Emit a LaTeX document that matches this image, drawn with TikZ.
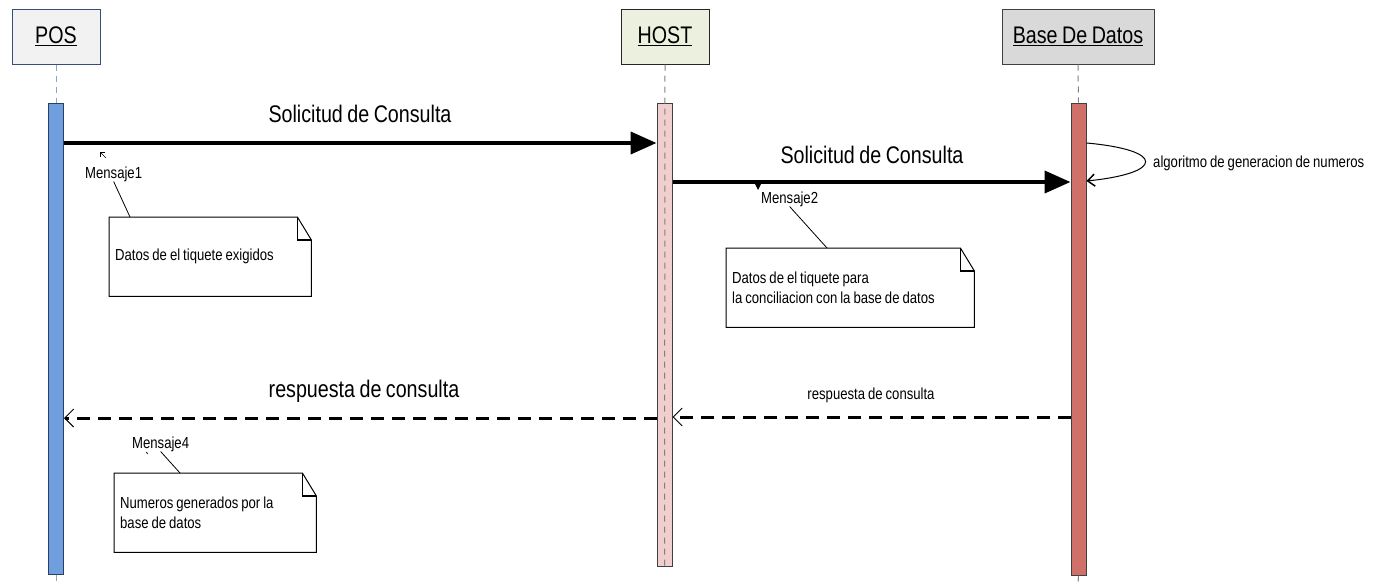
\documentclass[tikz,border=0pt]{standalone}
\usepackage{fontspec}
\newfontfamily\narrowsf[FakeStretch=0.82,WordSpace=0.82]{Liberation Sans}
\usepackage{tikz}
\usetikzlibrary{arrows.meta}
\usetikzlibrary{positioning}
\definecolor{posFill}{HTML}{F2F2F2}
\definecolor{posEdge}{HTML}{34507A}
\definecolor{posLine}{HTML}{8FA3C2}
\definecolor{posBarFill}{HTML}{6F9FDE}
\definecolor{hostFill}{HTML}{EBF1DE}
\definecolor{hostBarFill}{HTML}{F0CFCE}
\definecolor{dbFill}{HTML}{D9D9D9}
\definecolor{dbBarFill}{HTML}{CF7169}
\definecolor{barEdge}{HTML}{404040}
\definecolor{lineGray}{HTML}{808080}
\newcommand{\bigLabel}{\narrowsf\fontsize{24}{28}\selectfont}
\newcommand{\smallLabel}{\narrowsf\fontsize{16}{20}\selectfont}
\newcommand{\headText}[1]{\underline{#1}}
\newcommand{\tightSpace}{\spaceskip=0pt\xspaceskip=0pt\relax}
\newcommand{\noteFold}[1]{
	\draw[line width=1pt] (#1.north west) -- ([xshift=-14pt]#1.north east) -- ([yshift=-23pt]#1.north east) -- (#1.south east) -- (#1.south west) -- cycle;
	\draw[line width=1.4pt] ([xshift=-14pt]#1.north east) -- ([xshift=-14pt,yshift=-23pt]#1.north east) -- ([yshift=-23pt]#1.north east);
}

\begin{document}
\begin{tikzpicture}[x=1pt, y=-1pt,
	head/.style={draw, line width=1pt, minimum height=55pt, inner sep=0pt, font=\bigLabel},
	bar/.style={draw=barEdge, line width=1pt, minimum width=15pt, inner sep=0pt},
	lifeline/.style={line width=1pt, dash pattern=on 6pt off 5pt},
	call/.style={line width=4pt, -{Triangle[length=26pt,width=22pt]}},
	reply/.style={line width=3pt, dash pattern=on 13pt off 8pt, -{Straight Barb[line width=1pt,length=9pt,width=18pt]}},
	selfcall/.style={line width=1pt, -{Straight Barb[line width=1.5pt,length=7pt,width=12pt]}},
	msg/.style={font=\bigLabel, anchor=base, inner sep=0pt},
	tag/.style={font=\smallLabel, anchor=base west, inner sep=0pt},
	note/.style={minimum height=79pt, inner sep=6pt, align=left, font=\smallLabel, anchor=north west}]
	\useasboundingbox (0,0) rectangle (1376,584);

	\node[head, fill=posFill, draw=posEdge, minimum width=88pt] (pos) at (56,36.5) {\headText{POS}};
	\node[head, fill=hostFill, draw=black!85, minimum width=88pt] (host) at (665,36.5) {\headText{HOST}};
	\node[head, fill=dbFill, draw=barEdge, minimum width=152pt] (db) at (1078,36.5) {\headText{Base De Datos}};

	\coordinate (posEnd) at (56,584);
	\coordinate (dbEnd) at (1078,584);

	\node[bar, fill=posBarFill, draw=posEdge!80!black, minimum height=471pt] (posBar) at (56,338.5) {};
	\node[bar, fill=hostBarFill, minimum height=463pt] (hostBar) at (664.5,334.5) {};
	\node[bar, fill=dbBarFill, minimum height=472pt] (dbBar) at (1078.5,339) {};

	\draw[lifeline, posLine] (pos.south) -- (posBar.north);
	\draw[lifeline, posLine] (posBar.south) -- (posEnd);
	\draw[lifeline, lineGray] (host.south) -- (hostBar.south);
	\draw[lifeline, lineGray] (db.south) -- (dbBar.north);
	\draw[lifeline, lineGray] (dbBar.south) -- (dbEnd);

	\draw[call] (posBar.east |- 0,143) -- (hostBar.west |- 0,143);
	\node[msg] (ask1) at (360,122) {Solicitud de Consulta};
	\draw[call] (hostBar.east |- 0,182) -- (dbBar.west |- 0,182);
	\node[msg] (ask2) at (872,163) {Solicitud de Consulta};

	\draw[selfcall] (dbBar.east |- 0,143) .. controls (1165,150) and (1165,173) .. (dbBar.east |- 0,181);
	\node[tag] (algo) at (1153,167) {algoritmo de generacion de numeros};

	\draw[reply] (dbBar.west |- 0,417) -- (hostBar.east |- 0,417);
	\node[tag, anchor=base] (answer2) at (871,399) {respuesta de consulta};
	\draw[reply] (hostBar.west |- 0,418) -- (posBar.east |- 0,418);
	\node[msg] (answer1) at (364,397) {respuesta de consulta};

	\node[tag] (m1) at (85,178) {Mensaje1};
	\node[tag] (m2) at (761,203) {Mensaje2};
	\node[tag] (m4) at (132,448) {Mensaje4};
	\draw[line width=0.6pt, -{Straight Barb[length=3pt,width=6pt]}] (106,158) -- (100,152);
	\fill (755,184) -- (761,184) -- (758,190) -- cycle;
	\draw[line width=0.8pt] (146.5,452) -- (147.5,454);

	\node[note, text width=190pt] (note1) at (109,217) {\tightSpace Datos de el tiquete exigidos};
	\node[note, text width=236pt] (note2) at (726,248) {\tightSpace Datos de el tiquete para\\la conciliacion con la base de datos};
	\node[note, text width=190pt] (note4) at (114,473) {\tightSpace Numeros generados por la\\base de datos};
	\noteFold{note1}
	\noteFold{note2}
	\noteFold{note4}

	\draw[line width=0.8pt] (m1.south) -- ([xshift=21pt]note1.north west);
	\draw[line width=0.8pt] (m2.south) -- ([xshift=101pt]note2.north west);
	\draw[line width=0.8pt] (m4.south) -- ([xshift=66pt]note4.north west);
\end{tikzpicture}
\end{document}
